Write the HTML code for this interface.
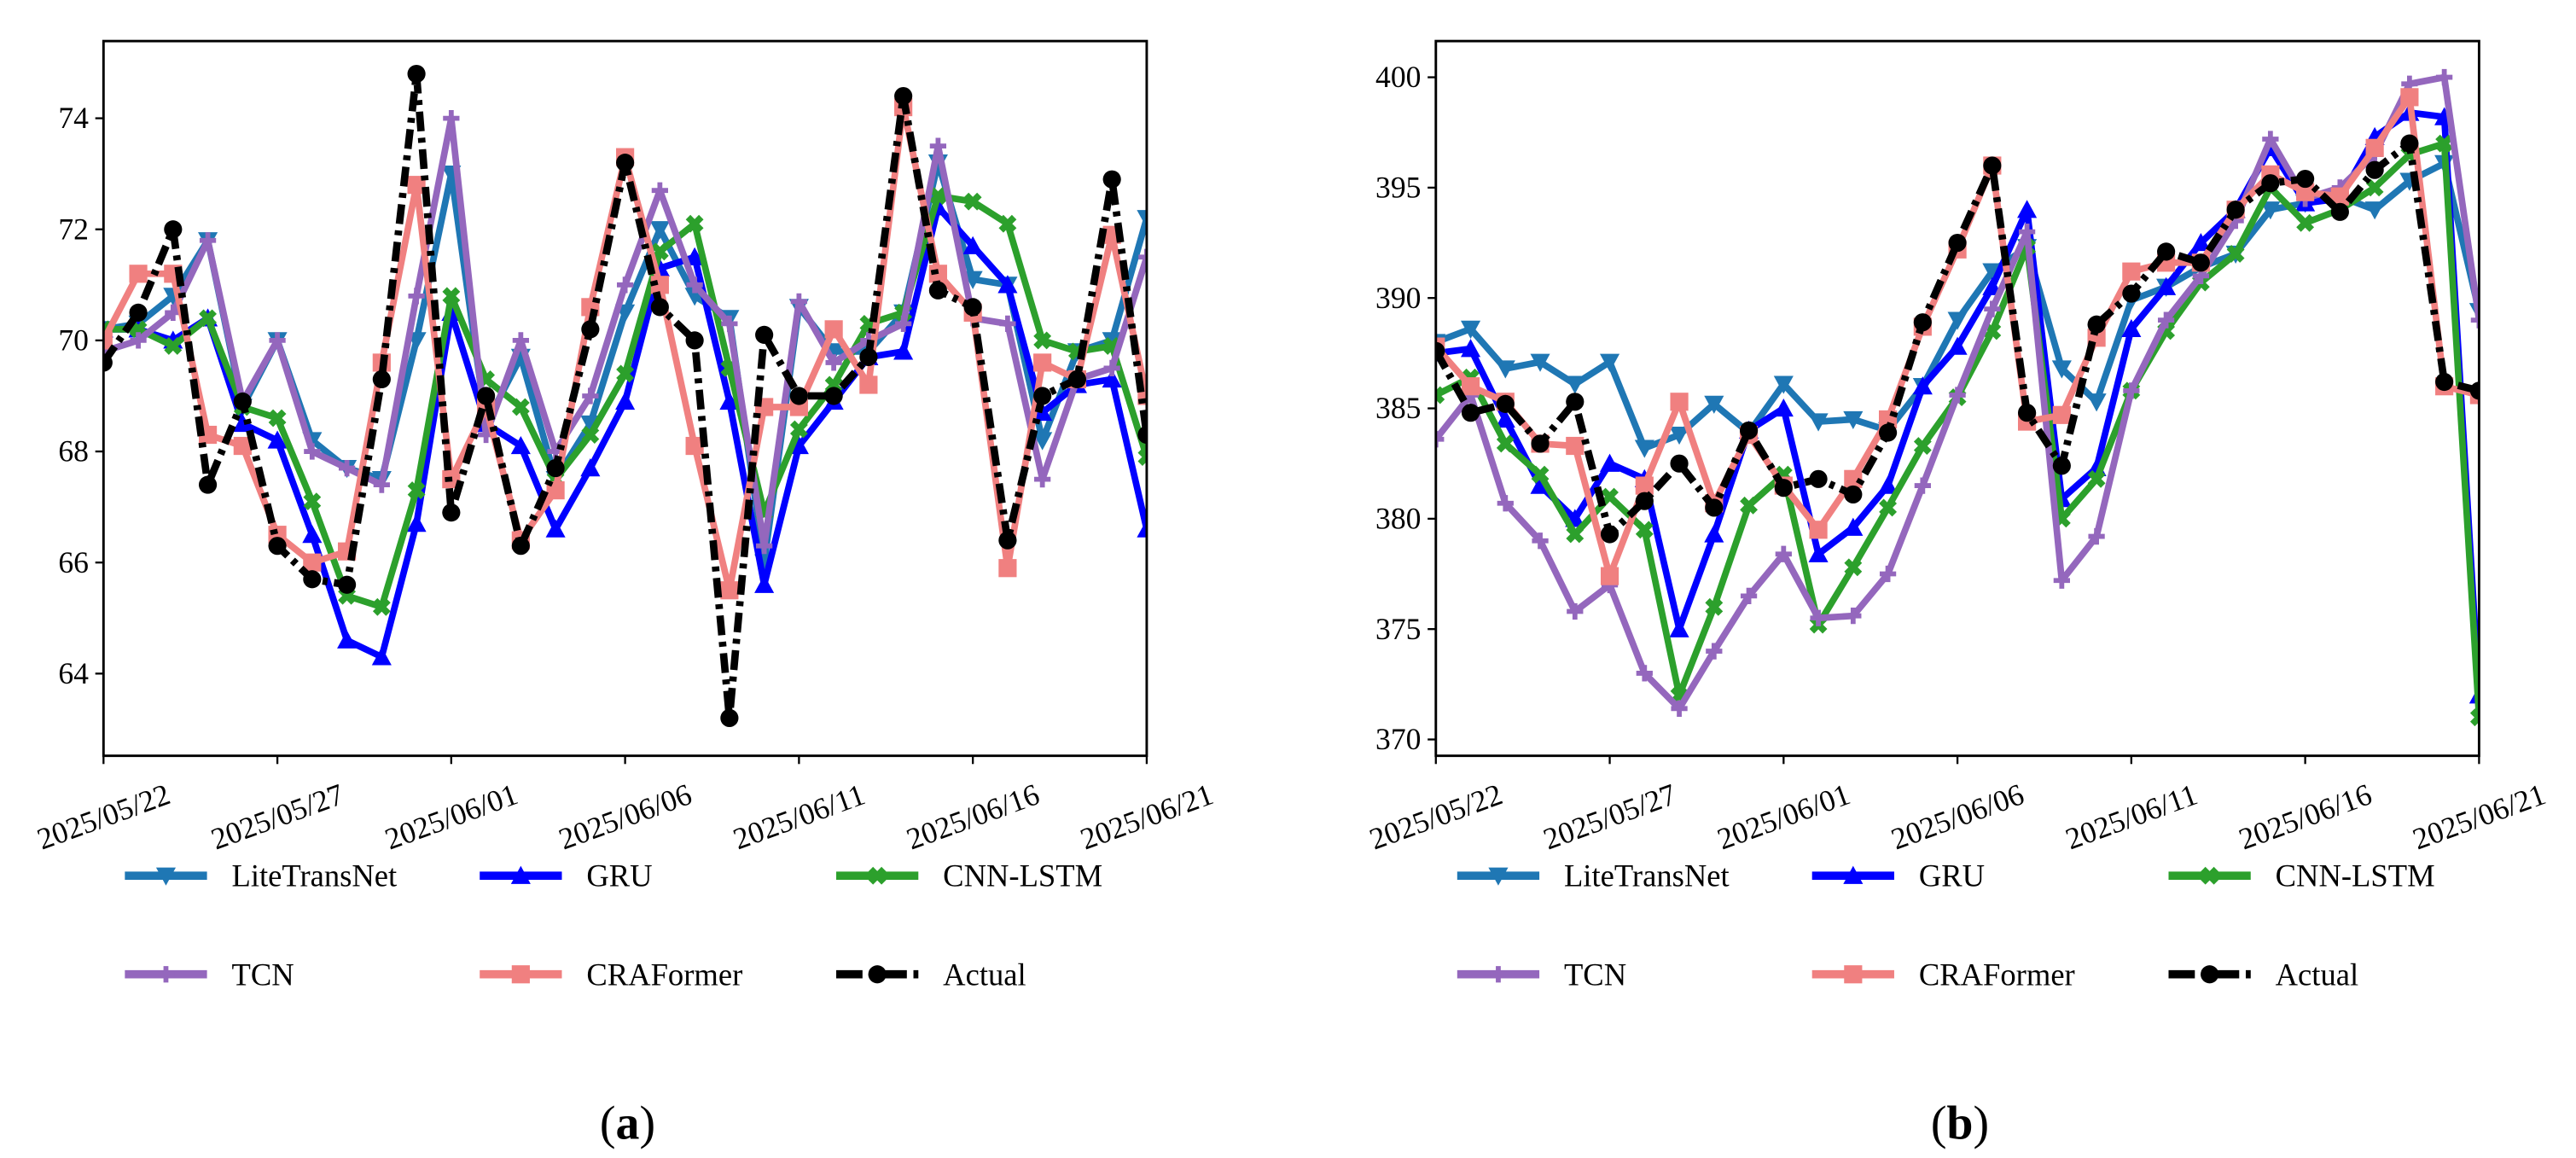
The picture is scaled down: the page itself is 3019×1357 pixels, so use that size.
<!DOCTYPE html>
<html><head><meta charset="utf-8">
<style>html,body{margin:0;padding:0;background:#fff;}svg{display:block;}</style></head>
<body>
<svg id="fig" width="3019" height="1357" viewBox="0 0 1568 704.8" xmlns="http://www.w3.org/2000/svg" font-family="'Liberation Serif', serif">
<rect width="1568" height="705" fill="#fff"/>
</svg>
<script>
const tickDates = ["2025/05/22","2025/05/27","2025/06/01","2025/06/06","2025/06/11","2025/06/16","2025/06/21"];
const seriesNames = ["LiteTransNet","GRU","CNN-LSTM","TCN","CRAFormer","Actual"];
const yTicksA = [64,66,68,70,72,74];
const yTicksB = [370,375,380,385,390,395,400];
// Panel (a)
const aLite = [70.2,70.3,70.8,71.8,68.8,70.0,68.2,67.7,67.5,70.0,73.0,68.5,69.7,67.5,68.5,70.5,72.0,70.8,70.4,66.0,70.6,69.8,69.8,70.5,73.2,71.1,71.0,68.2,69.8,70.0,72.2];
const aGRU = [70.2,70.2,70.0,70.4,68.5,68.2,66.5,64.6,64.3,66.7,70.5,68.5,68.1,66.6,67.7,68.9,71.3,71.5,68.9,65.6,68.1,68.9,69.7,69.8,72.4,71.7,71.0,68.7,69.2,69.3,66.6];
const aCNN = [70.2,70.2,69.9,70.4,68.8,68.6,67.1,65.4,65.2,67.3,70.8,69.3,68.8,67.5,68.3,69.4,71.6,72.1,69.5,66.9,68.4,69.2,70.3,70.5,72.6,72.5,72.1,70.0,69.8,69.9,67.9];
const aTCN = [69.8,70.0,70.5,71.8,68.9,70.0,68.0,67.7,67.4,70.8,74.0,68.3,70.0,68.0,69.0,71.0,72.7,71.0,70.3,66.3,70.7,69.6,70.0,70.3,73.5,70.4,70.3,67.5,69.3,69.5,71.5];
const aCRA = [70.0,71.2,71.2,68.3,68.1,66.5,66.0,66.2,69.6,72.8,67.5,68.8,66.4,67.3,70.6,73.3,71.0,68.1,65.5,68.8,68.8,70.2,69.2,74.2,71.2,70.5,65.9,69.6,69.3,71.9,69.0];
const aAct = [69.6,70.5,72.0,67.4,68.9,66.3,65.7,65.6,69.3,74.8,66.9,69.0,66.3,67.7,70.2,73.2,70.6,70.0,63.2,70.1,69.0,69.0,69.7,74.4,70.9,70.6,66.4,69.0,69.3,72.9,68.3];
// Panel (b)
const bLite = [388.0,388.6,386.8,387.1,386.1,387.1,383.2,383.8,385.2,383.9,386.1,384.4,384.5,384.0,386.0,389.0,391.2,392.3,386.8,385.3,389.9,390.5,391.4,392.0,394.0,394.3,394.6,394.0,395.3,396.1,389.4];
const bGRU = [387.5,387.7,384.5,381.5,380.0,382.5,381.8,375.0,379.3,384.0,385.0,378.4,379.6,381.5,386.0,387.8,390.5,394.0,380.9,382.3,388.6,390.5,392.5,394.0,396.8,394.3,394.5,397.3,398.4,398.2,372.0];
const bCNN = [385.6,386.4,383.4,382.0,379.3,381.0,379.5,372.0,376.0,380.6,382.0,375.2,377.8,380.5,383.3,385.5,388.5,392.3,380.0,381.8,385.8,388.5,390.7,392.0,395.0,393.4,394.0,395.0,396.5,397.0,371.0];
const bTCN = [383.6,385.6,380.7,379.0,375.8,377.0,373.0,371.4,374.0,376.5,378.4,375.5,375.6,377.5,381.5,385.6,389.5,393.0,377.2,379.2,385.8,389.0,391.0,393.5,397.2,394.5,395.0,396.5,399.7,400.0,389.0];
const bCRA = [387.8,386.0,385.3,383.4,383.3,377.4,381.5,385.3,380.7,383.8,381.5,379.5,381.8,384.5,388.7,392.2,396.0,384.4,384.7,388.2,391.2,391.6,391.6,394.0,395.6,394.8,394.6,396.8,399.1,386.0,385.6];
const bAct = [387.6,384.8,385.2,383.4,385.3,379.3,380.8,382.5,380.5,384.0,381.4,381.8,381.1,383.9,388.9,392.5,396.0,384.8,382.4,388.8,390.2,392.1,391.6,394.0,395.2,395.4,393.9,395.8,397.0,386.2,385.8];

const NS="http://www.w3.org/2000/svg";
const svg=document.getElementById('fig');
function mk(tag,attrs,parent){const e=document.createElementNS(NS,tag);for(const k in attrs)e.setAttribute(k,attrs[k]);(parent||svg).appendChild(e);return e;}
const colors=["#1f77b4","#0000ff","#2ca02c","#9467bd","#f08080","#000000"];
const markers=["v","^","x","*","s","o"];

function marker(g,type,x,y,c){
  let m;
  if(type==="v"){m=mk('polygon',{points:`${x-6},${y-5} ${x+6},${y-5} ${x},${y+6}`,fill:c},g);}
  else if(type==="^"){m=mk('polygon',{points:`${x-6},${y+5} ${x+6},${y+5} ${x},${y-6}`,fill:c},g);}
  else if(type==="x"){m=mk('path',{d:`M${x-4},${y-4}L${x+4},${y+4}M${x-4},${y+4}L${x+4},${y-4}`,stroke:c,'stroke-width':4},g);}
  else if(type==="*"){m=mk('path',{d:`M${x},${y-5}L${x},${y+5}M${x-5},${y}L${x+5},${y}`,stroke:c,'stroke-width':3},g);}
  else if(type==="s"){m=mk('rect',{x:x-5.5,y:y-5.5,width:11,height:11,fill:c},g);}
  else {m=mk('circle',{cx:x,cy:y,r:5.5,fill:c},g);}
  
  
}

function panel(ox,yTicks,ymin,ymax,data,label,idx){
  const L=ox,R=ox+635,T=25,B=460;
  const g=mk('g',{});
  
  
  const xs=i=>L+(R-L)*i/30;
  const ys=v=>B-(v-ymin)/(ymax-ymin)*(B-T);
  const clip=mk('clipPath',{id:'clip'+idx},g);
  mk('rect',{x:L,y:T,width:R-L,height:B-T},clip);
  const plot=mk('g',{'clip-path':`url(#clip${idx})`},g);
  data.forEach((arr,si)=>{
    const sg=mk('g',{},plot);
    
    
    const pts=arr.map((v,i)=>`${xs(i).toFixed(2)},${ys(v).toFixed(2)}`).join(' ');
    const ln=mk('polyline',{points:pts,fill:'none',stroke:colors[si],'stroke-width':4,'stroke-linejoin':'round'},sg);
    if(si===5){ln.setAttribute('stroke-dasharray','12 4 3 4');ln.setAttribute('stroke-width',4.5);}
    
    
    arr.forEach((v,i)=>marker(sg,markers[si],xs(i),ys(v),colors[si]));
  });
  const fr=mk('rect',{x:L,y:T,width:R-L,height:B-T,fill:'none',stroke:'#000','stroke-width':1.5},g);
  
  
  yTicks.forEach(v=>{
    const y=ys(v);
    mk('line',{x1:L-5,x2:L,y1:y,y2:y,stroke:'#000','stroke-width':1.2},g);
    const t=mk('text',{x:L-9,y:y+6,'text-anchor':'end','font-size':18.5},g);
    t.textContent=v;
    
    
  });
  tickDates.forEach((d,i)=>{
    const x=xs(i*5);
    mk('line',{x1:x,x2:x,y1:B,y2:B+5,stroke:'#000','stroke-width':1.2},g);
    const t=mk('text',{x:x,y:497,'text-anchor':'middle','dominant-baseline':'central','font-size':18.5,transform:`rotate(-20 ${x} 497)`},g);
    t.textContent=d;
    
    
  });
  const lg=mk('g',{},g);
  
  
  const cols=[ox+13,ox+229,ox+446], rows=[533,593];
  seriesNames.forEach((n,si)=>{
    const cx=cols[si%3], cy=rows[Math.floor(si/3)];
    const eg=mk('g',{},lg);
    
    
    const ln=mk('line',{x1:cx,x2:cx+50,y1:cy,y2:cy,stroke:colors[si],'stroke-width':5},eg);
    if(si===5)ln.setAttribute('stroke-dasharray','16 4 3 4');
    marker(eg,markers[si],cx+25,cy,colors[si]);
    const t=mk('text',{x:cx+65,y:cy+6.5,'font-size':19},eg);
    t.textContent=n;
  });
  const cap=mk('text',{x:ox+319,y:693,'text-anchor':'middle','font-size':29},g);
  
  
  cap.innerHTML='(<tspan font-weight="bold">'+label+'</tspan>)';
}
panel(63,yTicksA,62.52,75.39,[aLite,aGRU,aCNN,aTCN,aCRA,aAct],'a',0);
panel(874,yTicksB,369.26,401.64,[bLite,bGRU,bCNN,bTCN,bCRA,bAct],'b',1);
</script>
</body></html>
